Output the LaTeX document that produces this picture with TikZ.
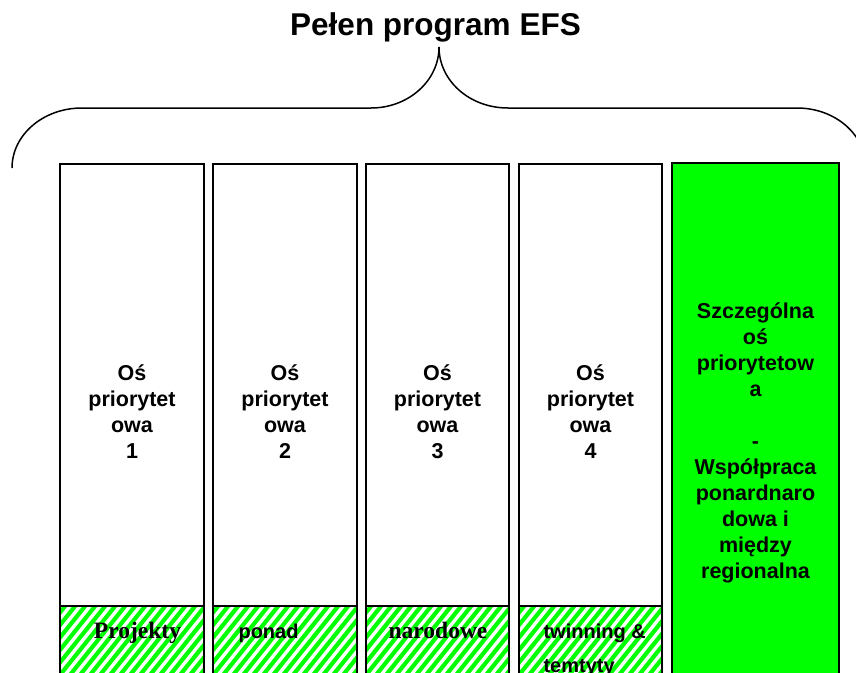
\documentclass[tikz,border=0pt]{standalone}
\usepackage{fontspec}
\setmainfont{Liberation Sans}
\newfontfamily\timesfont{Liberation Serif}
\definecolor{brightgreen}{RGB}{0,255,0}
\begin{document}
\begin{tikzpicture}[x=1pt,y=-1pt,
  colbox/.style={draw=black, line width=2pt, inner sep=0pt, outer sep=0pt, anchor=north west, minimum height=560pt},
  boxtext/.style={align=center, font=\bfseries\fontsize{21.5}{26}\selectfont},
  hatchsans/.style={font=\bfseries\fontsize{20}{24}\selectfont, anchor=base west, align=left},
  hatchserif/.style={font=\timesfont\bfseries\fontsize{23.5}{26}\selectfont, anchor=base},
  stripe/.style={draw=brightgreen, line width=4.2pt},
  bracepath/.style={draw=black, line width=1.5pt}]
\useasboundingbox (0,0) rectangle (856,672);
\clip (0,0) rectangle (856,672);
\fill[white] (0,0) rectangle (856,672);

% title
\node[font=\bfseries\fontsize{31.5}{36}\selectfont, anchor=base] (title) at (435.5,35) {Pełen program EFS};

% brace
\coordinate (tip) at (439,47);
\draw[bracepath] (12,168) .. controls (12,135) and (43,108) .. (82,108) -- (371,108)
  .. controls (408.5,108) and (439,80.7) .. (tip)
  .. controls (439,80.7) and (469.5,108) .. (508,108) -- (797,108)
  .. controls (835.6,108) and (866,135) .. (866,168);

% columns
\node[colbox, fill=white, minimum width=144pt] (b1) at (60,164) {};
\node[colbox, fill=white, minimum width=144pt] (b2) at (213,164) {};
\node[colbox, fill=white, minimum width=143pt] (b3) at (366,164) {};
\node[colbox, fill=white, minimum width=143pt] (b4) at (519,164) {};
\node[colbox, fill=brightgreen, minimum width=167pt] (b5) at (672,163) {};

% hatched bottoms
\foreach \l/\r in {60/204, 213/357, 366/509, 519/662}{
  \begin{scope}
    \clip (\l+1,607) rectangle (\r-1,680);
    \foreach \s in {-120,-110,...,200}{
      \draw[stripe] (\l+\s,700) -- ++(80,-100);
    }
  \end{scope}
  \draw[black, line width=2pt] (\l,606) -- (\r,606);
}

% column texts
\node[boxtext] (t1) at (132,412) {Oś\\priorytet\\owa\\1};
\node[boxtext] (t2) at (285,412) {Oś\\priorytet\\owa\\2};
\node[boxtext] (t3) at (437.5,412) {Oś\\priorytet\\owa\\3};
\node[boxtext] (t4) at (590.5,412) {Oś\\priorytet\\owa\\4};
\node[boxtext] (t5) at (755.5,443) {Szczególna\\oś\\priorytetow\\a\\\mbox{}\\-\\Współpraca\\ponardnaro\\dowa i\\między\\regionalna};

% hatch texts
\node[hatchserif] (h1) at (137.5,638) {Projekty};
\node[hatchsans] (h2) at (235,638) {ponad};
\node[hatchserif] (h3) at (438,638) {narodowe};
\node[hatchsans, font=\bfseries\fontsize{20}{34}\selectfont] (h4) at (540,672) {twinning \&\\temtyty};
\end{tikzpicture}
\end{document}
